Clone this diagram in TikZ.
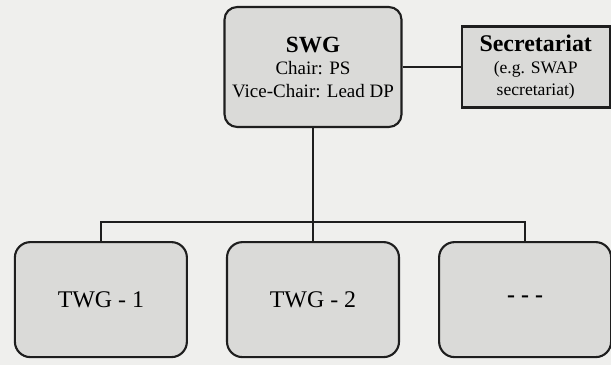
\documentclass[tikz,border=0pt]{standalone}
\usepackage{fontspec}
\setmainfont{Liberation Serif}
\usepackage{tikz}
\usetikzlibrary{positioning, calc}
\usepackage{xcolor}
\definecolor{PaperGrey}{HTML}{EFEFED}
\definecolor{BoxGrey}{HTML}{DADAD8}
\definecolor{InkBlack}{HTML}{1E1E1E}
\tikzset{
  % Steering group box
  groupbox/.style={
    rectangle, draw=InkBlack, line width=1.5pt,
    fill=BoxGrey, align=center,
    minimum width=4.425cm, minimum height=3.0cm,
    rounded corners=9pt, inner sep=2pt,
    font=\fontsize{13.5}{16}\selectfont
  },
  % Secretariat box
  secbox/.style={
    rectangle, draw=InkBlack, line width=1.7pt,
    fill=BoxGrey, align=center,
    minimum width=3.7cm, minimum height=2.025cm,
    inner sep=2pt,
    font=\fontsize{12.5}{15.5}\selectfont
  },
  % Technical group box
  twgbox/.style={
    rectangle, draw=InkBlack, line width=1.5pt,
    fill=BoxGrey, align=center,
    minimum width=4.3cm, minimum height=2.875cm,
    rounded corners=11pt,
    font=\fontsize{17}{20}\selectfont
  },
  % Connector style
  link/.style={
    line width=1.1pt, draw=InkBlack
  }
}
\begin{document}
\begin{tikzpicture}
\fill[PaperGrey] (0,0) rectangle (15.275,-9.125);
\useasboundingbox (0,0) rectangle (15.275,-9.125);

\node[groupbox] (swg) at (7.825,-1.675)
  {\textbf{\fontsize{16.5}{16}\selectfont SWG}\\
   Chair: PS\\
   Vice-Chair: Lead DP};
\node[secbox, right=1.45cm of swg] (secretariat)
  {\textbf{\fontsize{17}{16}\selectfont Secretariat}\\
   (e.g. SWAP\\
   secretariat)};

% ── technical working groups ─────────────────────────────
\node[twgbox, below=2.825cm of swg] (twg2) {TWG - 2};
\node[twgbox, left=0.95cm of twg2] (twg1) {TWG - 1};
\node[twgbox, right=0.95cm of twg2] (twg3) {\textbf{- - -}};

\coordinate[above=0.475cm of twg2.north] (bus);

\draw[link] (swg) -- (secretariat);
\draw[link] (swg) -- (twg2);
\draw[link] (twg1.north) |- (bus) -| (twg3.north);

\end{tikzpicture}
\end{document}
